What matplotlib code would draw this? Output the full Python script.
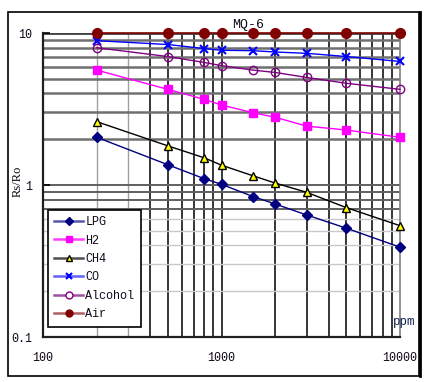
import matplotlib
matplotlib.use("Agg")
import matplotlib.pyplot as plt
from matplotlib.lines import Line2D
from matplotlib.patches import Rectangle

# data (ppm vs Rs/Ro)
ppm = [200, 500, 800, 1000, 1500, 2000, 3000, 5000, 10000]
lpg = [2.06, 1.36, 1.10, 1.01, 0.84, 0.75, 0.635, 0.52, 0.39]
h2 = [5.7, 4.26, 3.66, 3.36, 2.99, 2.79, 2.44, 2.30, 2.06]
ch4 = [2.61, 1.81, 1.51, 1.35, 1.15, 1.03, 0.895, 0.71, 0.54]
co = [8.9, 8.4, 7.9, 7.7, 7.65, 7.5, 7.35, 7.0, 6.5]
alcohol = [8.0, 7.0, 6.4, 6.1, 5.7, 5.5, 5.1, 4.67, 4.26]
air = [10, 10, 10, 10, 10, 10, 10, 10, 10]

x_ticks = [100, 1000, 10000]
y_ticks = [0.1, 1, 10]
y_tick_labels = ["0.1", "1", "10"]

mono = "Liberation Mono"
serif = "Liberation Serif"
txt = "#100818"

fig = plt.figure(figsize=(4.29, 3.82), dpi=100)
fig.patch.set_facecolor("white")

# outer frame
fig.patches.append(Rectangle((8 / 429, 1 - 376 / 382), 411 / 429, 364 / 382,
                             transform=fig.transFigure, fill=False,
                             edgecolor="black", linewidth=1.2))
fig.add_artist(Line2D([419.5 / 429, 419.5 / 429], [1 - 376 / 382, 1 - 12 / 382],
                      transform=fig.transFigure, color="black", linewidth=2))

ax = fig.add_axes([43 / 429, 1 - 337 / 382, 357 / 429, 304 / 382])
ax.set_xscale("log")
ax.set_yscale("log")
ax.set_xlim(100, 10000)
ax.set_ylim(0.1, 10)

# grid lines
for v in [200, 300]:
    ax.axvline(v, color="#a0a0a0", linewidth=1, zorder=1)
for v in [400, 500, 600, 700, 800, 900, 1000, 2000, 3000, 4000, 5000, 6000, 7000, 8000, 9000]:
    ax.axvline(v, color="black", linewidth=1.1, zorder=1)
for v in [2, 3, 4, 5, 6, 7, 8, 9]:
    ax.axhline(v, color="#707070", linewidth=1.8, zorder=1)
for v in [0.7, 0.8, 0.9, 1]:
    ax.axhline(v, color="#606060", linewidth=1.4, zorder=1)
for v in [0.2, 0.3, 0.4, 0.5, 0.6]:
    ax.axhline(v, color="#c8c8c8", linewidth=1, zorder=1)
ax.axhline(10, color="#404040", linewidth=2, zorder=1)

ax.plot(ppm, lpg, color="#000080", marker="D", markersize=5, linewidth=1, clip_on=False, zorder=3)
ax.plot(ppm, h2, color="#ff00ff", marker="s", markersize=6, linewidth=1, clip_on=False, zorder=3)
ax.plot(ppm, ch4, color="black", marker="^", markersize=6, markerfacecolor="#ffff00",
        markeredgecolor="black", linewidth=1, clip_on=False, zorder=3)
ax.plot(ppm, co, color="#0000ff", marker="x", markersize=6, markeredgewidth=1.5, linewidth=1,
        clip_on=False, zorder=3)
ax.plot(ppm, alcohol, color="#800080", marker="o", markersize=6, markerfacecolor="none",
        linewidth=1, clip_on=False, zorder=3)
ax.plot(ppm, air, color="#800000", marker="o", markersize=7, linewidth=1.2, clip_on=False, zorder=4)

# legend with lighter lines like the reference
handles = [
    Line2D([], [], color="#5858a8", linewidth=1.8, marker="D", markersize=4, markerfacecolor="#000080", markeredgecolor="#000080"),
    Line2D([], [], color="#ff40ff", linewidth=1.8, marker="s", markersize=5, markerfacecolor="#ff00ff", markeredgecolor="#ff00ff"),
    Line2D([], [], color="#505050", linewidth=1.8, marker="^", markersize=5, markerfacecolor="#ffff00", markeredgecolor="black"),
    Line2D([], [], color="#6060ff", linewidth=1.8, marker="x", markersize=5, markeredgewidth=1.5, markeredgecolor="#0000ff"),
    Line2D([], [], color="#a050a0", linewidth=1.8, marker="o", markersize=5, markerfacecolor="white", markeredgecolor="#800080"),
    Line2D([], [], color="#b06060", linewidth=1.8, marker="o", markersize=5, markerfacecolor="#800000", markeredgecolor="#800000"),
]
labels = ["LPG", "H2", "CH4", "CO", "Alcohol", "Air"]
leg = ax.legend(handles, labels, loc="lower left", bbox_to_anchor=(0.014, 0.033),
                prop={"family": mono, "size": 8.5}, frameon=True, fancybox=False,
                edgecolor="black", framealpha=1, borderpad=0.55, labelspacing=0.55,
                handlelength=2.4, handletextpad=0.2, borderaxespad=0)
leg.get_frame().set_linewidth(1.2)
leg.set_zorder(5)
for t in leg.get_texts():
    t.set_color(txt)

ax.set_xticks(x_ticks)
ax.set_xticklabels([str(v) for v in x_ticks], fontfamily=mono, fontsize=8.5, color=txt)
ax.set_yticks(y_ticks)
ax.set_yticklabels(y_tick_labels, fontfamily=mono, fontsize=8.5, color=txt)
ax.minorticks_off()
ax.tick_params(axis="x", length=0, pad=11)
ax.tick_params(axis="y", direction="in", length=5, width=1.2, pad=8)

for s in ["left", "bottom"]:
    ax.spines[s].set_linewidth(1.6)
    ax.spines[s].set_color("#202020")
ax.spines["right"].set_color("#808080")
ax.spines["right"].set_linewidth(1.2)
ax.spines["top"].set_visible(False)

fig.text(18 / 429, 1 - 181 / 382, "Rs/Ro", fontfamily=serif, fontsize=9, color=txt,
         rotation=90, ha="center", va="center")
fig.text(248 / 429, 1 - 25 / 382, "MQ-6", fontfamily=mono, fontsize=9.5, color=txt,
         ha="center", va="center")
fig.text(404 / 429, 1 - 322 / 382, "ppm", fontfamily=mono, fontsize=9, color="#102050",
         ha="center", va="center")

fig.savefig("out.png", dpi=100, facecolor="white")
